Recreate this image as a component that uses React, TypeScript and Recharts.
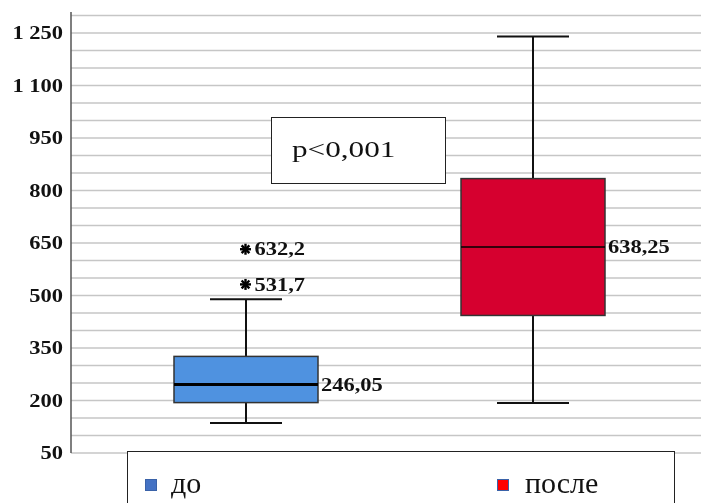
import React from "react";
import {
  ComposedChart,
  Bar,
  Scatter,
  XAxis,
  YAxis,
  CartesianGrid,
  Legend,
} from "recharts";

// groups and five-number summaries
const groups = ["до", "после"];
const whiskerLow = [136, 193];
const quart1 = [194, 443];
const medians = [246.05, 638.25];
const quart3 = [326, 834];
const whiskerHigh = [489, 1240];
const outlierLow = [531.7, null];
const outlierHigh = [632.2, null];

const boxFills = ["#4f92e0", "#d6002f"];
const medianWidths = [3, 1.5];
const legendFills = ["#4472c4", "#ff0000"];

const yTicks = [50, 200, 350, 500, 650, 800, 950, 1100, 1250];
const gridValues = Array.from({ length: 26 }, (_, i) => 50 + i * 50);

const SERIF = "'Liberation Serif', 'Times New Roman', serif";

const rows = groups.map((name, i) => ({
  name,
  range: [whiskerLow[i], whiskerHigh[i]],
  q1: quart1[i],
  med: medians[i],
  q3: quart3[i],
  fill: boxFills[i],
  medW: medianWidths[i],
  outA: outlierLow[i],
  outB: outlierHigh[i],
}));

const fmtNum = (v: number) => {
  if (v >= 1000) return `${Math.floor(v / 1000)} ${String(v % 1000).padStart(3, "0")}`;
  return String(v);
};
const fmtComma = (v: number) => String(v).replace(".", ",");

// bold serif text, stretched a bit sideways like the original
function Wide({ x, y, anchor = "start", size = 18, children }: any) {
  return (
    <text
      transform={`translate(${x},${y}) scale(1.25,1)`}
      textAnchor={anchor}
      dominantBaseline="central"
      fontFamily={SERIF}
      fontWeight="bold"
      fontSize={size}
      fill="#111"
    >
      {children}
    </text>
  );
}

const AxisTick = ({ x, y, payload }: any) => (
  <Wide x={x} y={y} anchor="end" size={18}>
    {fmtNum(payload.value)}
  </Wide>
);

function BoxShape(props: any) {
  const { x, y, width, height, payload } = props;
  const [lo, hi] = payload.range;
  const top = Math.min(y, y + height);
  const h = Math.abs(height);
  const py = (v: number) => top + ((hi - v) / (hi - lo)) * h;
  const cx = x + width / 2;
  const cap = width / 4;
  return (
    <g>
      <line x1={cx} x2={cx} y1={py(hi)} y2={py(payload.q3)} stroke="#111" strokeWidth={2} />
      <line x1={cx} x2={cx} y1={py(payload.q1)} y2={py(lo)} stroke="#111" strokeWidth={2} />
      <line x1={cx - cap} x2={cx + cap} y1={py(hi)} y2={py(hi)} stroke="#111" strokeWidth={2} />
      <line x1={cx - cap} x2={cx + cap} y1={py(lo)} y2={py(lo)} stroke="#111" strokeWidth={2} />
      <rect
        x={x}
        y={py(payload.q3)}
        width={width}
        height={py(payload.q1) - py(payload.q3)}
        fill={payload.fill}
        stroke="#333"
        strokeWidth={1.5}
      />
      <line
        x1={x}
        x2={x + width}
        y1={py(payload.med)}
        y2={py(payload.med)}
        stroke="#000"
        strokeWidth={payload.medW}
      />
      <Wide x={x + width + 3} y={py(payload.med)}>
        {fmtComma(payload.med)}
      </Wide>
    </g>
  );
}

function makeStar(key: string) {
  return (props: any) => {
    const { cx, cy, payload } = props;
    if (payload[key] == null || !isFinite(cx) || !isFinite(cy)) return <g />;
    const r = 5.5;
    const spokes = [0, 45, 90, 135].map((a) => {
      const rad = (a * Math.PI) / 180;
      return (
        <line
          key={a}
          x1={cx - r * Math.cos(rad)}
          y1={cy - r * Math.sin(rad)}
          x2={cx + r * Math.cos(rad)}
          y2={cy + r * Math.sin(rad)}
          stroke="#000"
          strokeWidth={2.4}
        />
      );
    });
    return (
      <g>
        {spokes}
        <Wide x={cx + 9} y={cy}>
          {fmtComma(payload[key])}
        </Wide>
      </g>
    );
  };
}

function LegendBox() {
  return (
    <div
      style={{
        position: "relative",
        boxSizing: "border-box",
        width: 548,
        height: 70,
        border: "1.5px solid #222",
        background: "#fff",
        fontFamily: SERIF,
      }}
    >
      {groups.map((g, i) => {
        const left = i === 0 ? 17 : 369;
        return (
          <React.Fragment key={g}>
            <div
              style={{
                position: "absolute",
                left,
                top: 27,
                width: 12,
                height: 12,
                boxSizing: "border-box",
                background: legendFills[i],
                border: "1.5px solid #3a62a8",
              }}
            />
            <span
              style={{
                position: "absolute",
                left: left + (i === 0 ? 26 : 28),
                top: 16,
                fontSize: 30,
                lineHeight: "30px",
                color: "#111",
                whiteSpace: "nowrap",
              }}
            >
              {g}
            </span>
          </React.Fragment>
        );
      })}
    </div>
  );
}

export default function App() {
  return (
    <div
      style={{
        position: "fixed",
        left: 8,
        top: 8,
        width: 705,
        height: 495,
        overflow: "hidden",
      }}
    >
      <ComposedChart
        width={705}
        height={495}
        data={rows}
        margin={{ top: 4, right: 0, bottom: 50, left: 0 }}
      >
        <CartesianGrid
          vertical={false}
          horizontalValues={gridValues}
          stroke="#c6c6c6"
          strokeWidth={1.5}
        />
        <XAxis
          dataKey="name"
          type="category"
          height={0}
          tick={false}
          tickLine={false}
          axisLine={{ stroke: "#444", strokeWidth: 1.5 }}
          padding={{ left: 31, right: 37 }}
        />
        <YAxis
          type="number"
          width={63}
          domain={[50, 1310]}
          allowDataOverflow
          ticks={yTicks}
          interval={0}
          tickLine={false}
          tickSize={0}
          tickMargin={8}
          tick={<AxisTick />}
          axisLine={{ stroke: "#555", strokeWidth: 1.5 }}
        />
        <Legend
          layout="horizontal"
          verticalAlign="middle"
          align="center"
          wrapperStyle={{ left: 119, top: 443, width: 548, height: 70 }}
          content={() => <LegendBox />}
        />
        <Bar dataKey="range" barSize={144} shape={<BoxShape />} isAnimationActive={false} />
        <Scatter dataKey="outA" shape={makeStar("outA")} isAnimationActive={false} />
        <Scatter dataKey="outB" shape={makeStar("outB")} isAnimationActive={false} />
      </ComposedChart>
      <div
        style={{
          position: "absolute",
          left: 263,
          top: 109,
          width: 175,
          height: 67,
          boxSizing: "border-box",
          border: "1px solid #222",
          background: "#fff",
          fontFamily: SERIF,
        }}
      >
        <span
          style={{
            position: "absolute",
            left: 20,
            top: 19,
            fontSize: 24,
            lineHeight: "24px",
            color: "#111",
            transform: "scaleX(1.3)",
            transformOrigin: "left center",
            whiteSpace: "nowrap",
          }}
        >
          p&lt;0,001
        </span>
      </div>
    </div>
  );
}
